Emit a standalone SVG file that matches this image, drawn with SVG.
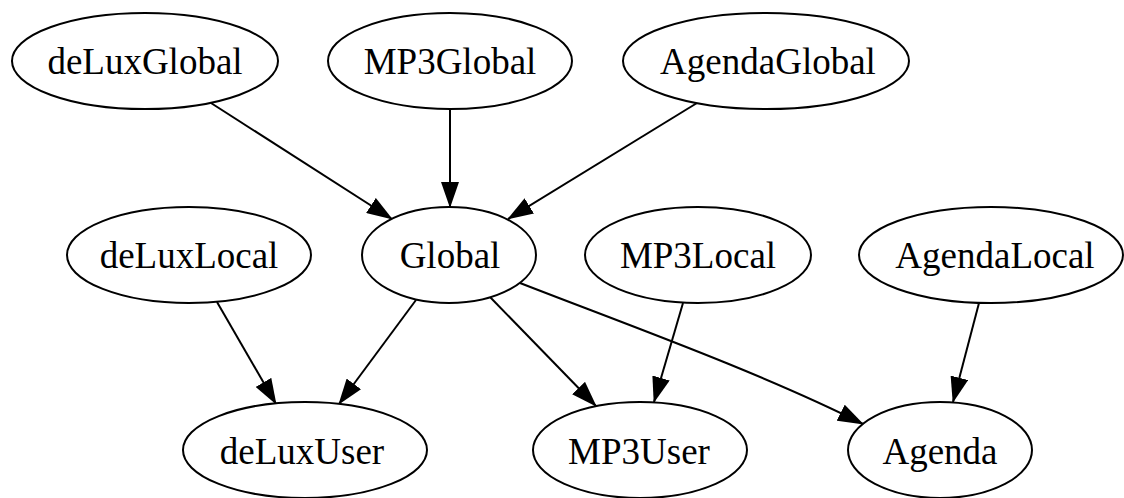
<svg xmlns="http://www.w3.org/2000/svg" width="1124" height="498" viewBox="0 0 1124 498">
  <style>
    .node ellipse { fill: #ffffff; stroke: #000000; stroke-width: 2; }
    .node text { font-family: "Liberation Serif", "Times New Roman", serif; font-size: 37px; fill: #000000; text-anchor: middle; }
    .edge { fill: none; stroke: #000000; stroke-width: 2; marker-end: url(#arrow); }
  </style>
  <defs>
    <marker id="arrow" markerUnits="userSpaceOnUse" markerWidth="26" markerHeight="18" refX="25" refY="9" orient="auto">
      <path d="M0,0 L26,9 L0,18 Z" fill="#000000"/>
    </marker>
  </defs>
  <rect width="1124" height="498" fill="#ffffff"/>

  <g id="connectors">
    <path class="edge" d="M211,103 L392,219"/>
    <path class="edge" d="M450,109 L450,207"/>
    <path class="edge" d="M697,103 L508,219"/>
    <path class="edge" d="M217,302 L276,404"/>
    <path class="edge" d="M416,300 L339,404"/>
    <path class="edge" d="M490,297 L596,406"/>
    <path class="edge" d="M683,303 L654,402"/>
    <path class="edge" d="M520,283 C620,322 760,372 863,424"/>
    <path class="edge" d="M979,303 L953,402"/>
  </g>

  <g id="deLuxGlobal" class="node">
    <ellipse cx="145" cy="61" rx="133" ry="48"/>
    <text x="145" y="74">deLuxGlobal</text>
  </g>
  <g id="MP3Global" class="node">
    <ellipse cx="450" cy="61" rx="122" ry="48"/>
    <text x="450" y="74">MP3Global</text>
  </g>
  <g id="AgendaGlobal" class="node">
    <ellipse cx="766" cy="61" rx="143" ry="48"/>
    <text x="768" y="74">AgendaGlobal</text>
  </g>
  <g id="deLuxLocal" class="node">
    <ellipse cx="189" cy="255" rx="122" ry="48"/>
    <text x="189" y="268">deLuxLocal</text>
  </g>
  <g id="Global" class="node">
    <ellipse cx="449" cy="255" rx="87" ry="48"/>
    <text x="450" y="268">Global</text>
  </g>
  <g id="MP3Local" class="node">
    <ellipse cx="698" cy="255" rx="113" ry="48"/>
    <text x="698" y="268">MP3Local</text>
  </g>
  <g id="AgendaLocal" class="node">
    <ellipse cx="991" cy="255" rx="132" ry="48"/>
    <text x="995" y="268">AgendaLocal</text>
  </g>
  <g id="deLuxUser" class="node">
    <ellipse cx="305" cy="450" rx="122" ry="48"/>
    <text x="302" y="464">deLuxUser</text>
  </g>
  <g id="MP3User" class="node">
    <ellipse cx="640" cy="450" rx="107" ry="48"/>
    <text x="639" y="464">MP3User</text>
  </g>
  <g id="Agenda" class="node">
    <ellipse cx="940" cy="450" rx="92" ry="48"/>
    <text x="940" y="464">Agenda</text>
  </g>
</svg>
